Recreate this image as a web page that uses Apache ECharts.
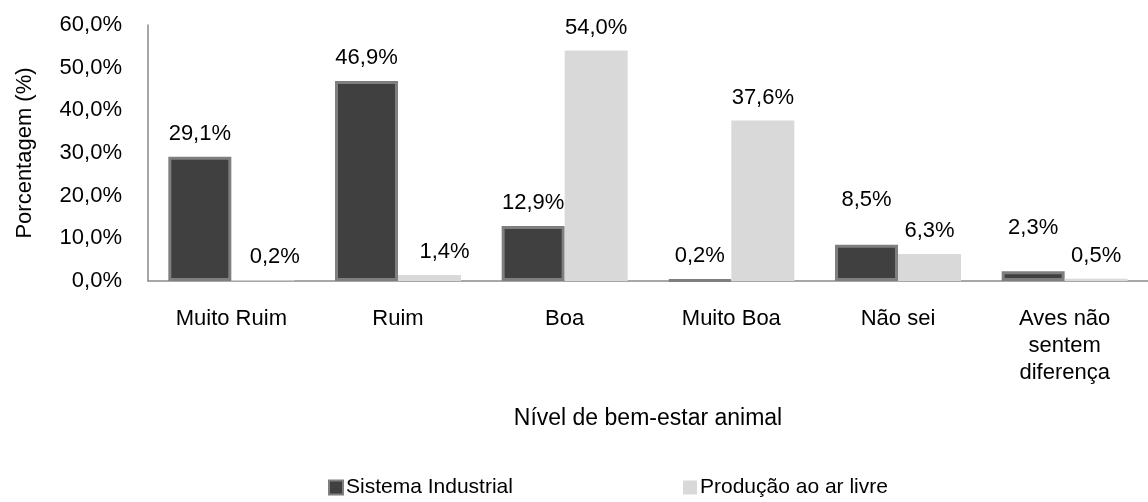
<!DOCTYPE html>
<html>
<head>
<meta charset="utf-8">
<script src="https://cdn.jsdelivr.net/npm/echarts@6/dist/echarts.min.js"></script>
<style>
html,body{margin:0;padding:0;background:#fff;}
#chart{width:1148px;height:502px;}
</style>
</head>
<body>
<div id="chart"></div>
<script>
const categories = ['Muito Ruim', 'Ruim', 'Boa', 'Muito Boa', 'Não sei', 'Aves não\nsentem\ndiferença'];
const seriesNames = ['Sistema Industrial', 'Produção ao ar livre'];
const industrial = [29.1, 46.9, 12.9, 0.2, 8.5, 2.3];
const arLivre = [0.2, 1.4, 54.0, 37.6, 6.3, 0.5];
const yTicks = { min: 0, max: 60, interval: 10 };
const yAxisTitle = 'Porcentagem (%)';
const xAxisTitle = 'Nível de bem-estar animal';

const FONT = '"Liberation Sans", Arial, sans-serif';
const fmt = v => v.toFixed(1).replace('.', ',') + '%';

// manual label nudges (style only), keyed by series/category index
const nudges = { '1-0': [12, 0], '1-1': [15, 0], '0-4': [0, -22], '0-5': [0, -20] };
function build(values, s) {
  return values.map((v, i) => {
    const n = nudges[s + '-' + i];
    return n ? { value: v, label: { offset: n } } : v;
  });
}

const chart = echarts.init(document.getElementById('chart'), null, { renderer: 'canvas' });
const labelStyle = {
  show: true, position: 'top', distance: 12,
  color: '#000', fontFamily: FONT, fontSize: 22,
  formatter: p => fmt(p.value)
};
chart.setOption({
  animation: false,
  backgroundColor: '#fff',
  grid: { left: 148, top: 25, width: 1020, height: 256, containLabel: false },
  legend: [
    { data: [seriesNames[0]], left: 328, top: 477, padding: 0, itemWidth: 14, itemHeight: 14, itemGap: 0,
      icon: 'rect', textStyle: { color: '#000', fontFamily: FONT, fontSize: 21, padding: [0, 0, 0, -2] } },
    { data: [seriesNames[1]], left: 683, top: 477, padding: 0, itemWidth: 14, itemHeight: 14, itemGap: 0,
      icon: 'rect', textStyle: { color: '#000', fontFamily: FONT, fontSize: 21, padding: [0, 0, 0, -2] } }
  ],
  xAxis: {
    type: 'category', data: categories,
    name: xAxisTitle, nameLocation: 'middle', nameGap: 126,
    nameTextStyle: { color: '#000', fontFamily: FONT, fontSize: 23 },
    axisLine: { lineStyle: { color: '#8a8a8a', width: 1.5 } },
    axisTick: { show: false },
    axisLabel: { color: '#000', fontFamily: FONT, fontSize: 22, lineHeight: 27, margin: 24, interval: 0 }
  },
  yAxis: {
    type: 'value', min: yTicks.min, max: yTicks.max, interval: yTicks.interval,
    name: yAxisTitle, nameLocation: 'middle', nameGap: 112,
    nameTextStyle: { color: '#000', fontFamily: FONT, fontSize: 22 },
    axisLine: { show: true, lineStyle: { color: '#8a8a8a', width: 1.5 } },
    axisTick: { show: false },
    splitLine: { show: false },
    axisLabel: { color: '#000', fontFamily: FONT, fontSize: 22, margin: 26, formatter: v => fmt(v) }
  },
  series: [
    { name: seriesNames[0], type: 'bar', data: build(industrial, 0), barWidth: 63, barGap: '0%',
      itemStyle: { color: '#404040', borderColor: '#7f7f7f', borderWidth: 3 }, label: labelStyle },
    { name: seriesNames[1], type: 'bar', data: build(arLivre, 1), barWidth: 63, barGap: '0%',
      itemStyle: { color: '#d9d9d9' }, label: labelStyle }
  ]
});
</script>
</body>
</html>
